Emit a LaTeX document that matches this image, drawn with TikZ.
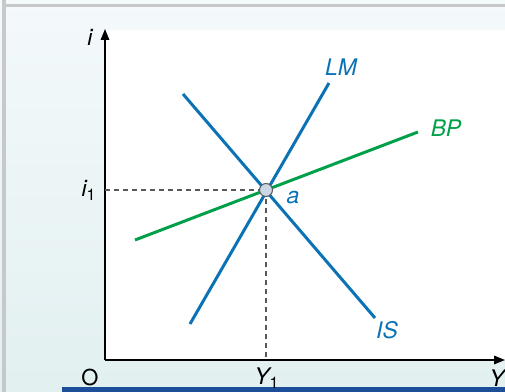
\documentclass[tikz,border=0pt]{standalone}
\usepackage{fontspec}
\setmainfont{TeX Gyre Heros}
\usepackage{tikz}
\usetikzlibrary{arrows.meta,positioning,calc}
\usepackage{xcolor}
\definecolor{curveblue}{HTML}{0A72B5}
\definecolor{curvegreen}{HTML}{00A04B}
\definecolor{bgtop}{HTML}{F4F9FB}
\definecolor{bgbot}{HTML}{E2F0F0}
\definecolor{frameg}{HTML}{C6C8CA}
\definecolor{rulenavy}{HTML}{1C4E9A}
\definecolor{ptfill}{HTML}{C9D7E6}
\tikzset{
  axis/.style    = {line width=0.9pt, -{Triangle[length=2.2mm, width=1.7mm]}},
  curve/.style   = {line width=1.7pt, curveblue},
  bpcurve/.style = {line width=1.7pt, curvegreen},
  guide/.style   = {line width=0.6pt, black!65, dash pattern=on 1mm off 0.8mm},
  lbl/.style     = {font=\fontsize{13}{15}\selectfont\itshape, inner sep=0pt},
  tick/.style    = {font=\fontsize{12.5}{15}\selectfont, inner sep=0pt},
  eqpt/.style    = {draw=black!65, line width=0.6pt, fill=ptfill, circle,
                    inner sep=0pt, minimum size=2.6mm},
}

\begin{document}
\begin{tikzpicture}[x=0.02cm, y=0.02cm]
\useasboundingbox (0,0) rectangle (505,392);
% ---------------- page background and frame ----------------
\shade[top color=bgtop, bottom color=bgbot] (0,0) rectangle (505,392);
\fill[frameg] (2,0) rectangle (6,392);
\fill[frameg] (2,385) rectangle (505,388);
\fill[white] (105,32) rectangle (505,362);
\fill[rulenavy] (62,0) rectangle (505,4.5);
% ---------------- axes ----------------
\coordinate (O) at (105,32);
\coordinate (ytip) at (105,363);
\coordinate (xtip) at (505,32);
\draw[axis] (O) -- (ytip);
\draw[axis] (O) -- (xtip);
\node[tick] (olbl) at (90,14) {O};
\node[lbl] (ilbl) at (90,355) {i};
\node[lbl] (Ylbl) at (497,14) {Y};
% ---------------- equilibrium and guides ----------------
\coordinate (a) at (266,202);
\coordinate (aY) at (266,32);
\coordinate (ai) at (105,202);
\draw[guide] (ai) -- (a);
\draw[guide] (a) -- (aY);
\node[lbl] (i1lbl) at (89,202) {i\textsubscript{\upshape 1}};
\node[lbl] (Y1lbl) at (267,14) {Y\textsubscript{\upshape 1}};
% ---------------- schedules ----------------
\coordinate (lm0) at (190,68);  \coordinate (lm1) at (329,309);
\coordinate (is0) at (183,298); \coordinate (is1) at (375,74);
\coordinate (bp0) at (135,152); \coordinate (bp1) at (418,260);
\draw[curve] (lm0) -- (lm1);
\draw[curve] (is0) -- (is1);
\draw[bpcurve] (bp0) -- (bp1);
\node[lbl, curveblue] (lmlbl) at (341,325) {LM};
\node[lbl, curveblue] (islbl) at (387,62) {IS};
\node[lbl, curvegreen] (bplbl) at (446,264) {BP};
\node[eqpt] (apt) at (a) {};
\node[lbl, curveblue] (albl) at (293,194) {a};
\end{tikzpicture}
\end{document}
